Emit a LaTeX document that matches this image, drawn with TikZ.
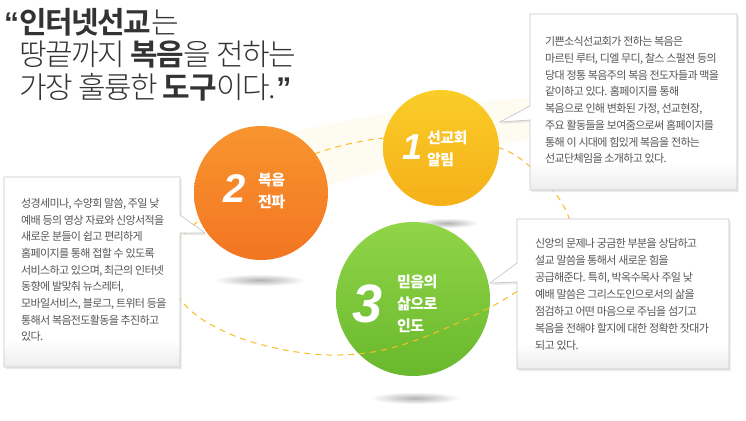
\documentclass[tikz,border=0pt]{standalone}
\usepackage{fontspec}
\usetikzlibrary{shadows}
\newfontfamily\kr[LetterSpace=-6]{Noto Sans CJK KR}
\IfFontExistsTF{Noto Sans CJK KR Light}{%
  \IfFontExistsTF{Noto Sans CJK KR Bold}{%
    \newfontfamily\krt[LetterSpace=-5, BoldFont={Noto Sans CJK KR Bold}]{Noto Sans CJK KR Light}}{%
    \newfontfamily\krt[LetterSpace=-5]{Noto Sans CJK KR}}}{%
  \newfontfamily\krt[LetterSpace=-5]{Noto Sans CJK KR}}
\newfontfamily\krc[LetterSpace=-4]{Noto Sans CJK KR}
\newfontfamily\numfont{Liberation Sans}
\definecolor{titlegray}{HTML}{333333}
\definecolor{boxgray}{HTML}{555555}
\definecolor{yelTop}{HTML}{FACD27}
\definecolor{yelBot}{HTML}{F5B01A}
\definecolor{orTop}{HTML}{F8952F}
\definecolor{orBot}{HTML}{F37522}
\definecolor{grTop}{HTML}{91D548}
\definecolor{grBot}{HTML}{69B82D}
\definecolor{dashcol}{HTML}{F7BE24}
\definecolor{swooshcol}{HTML}{FEFCF1}
\begin{document}
\begin{tikzpicture}[x=1pt,y=-1pt,
  boxfill/.style={fill=white, drop shadow={opacity=0.16, shadow xshift=1.5pt, shadow yshift=-2pt}},
  boxline/.style={draw=black!22, line width=0.7pt},
  boxgrad/.style={top color=white, bottom color=black!7},
  boxtext/.style={anchor=north west, inner sep=0pt, align=left, text=boxgray, font=\kr\fontsize{11}{16.7}\selectfont},
  titletext/.style={anchor=base west, inner sep=0pt, text=titlegray, font=\krt\fontsize{30}{34}\selectfont},
  ballshadow/.style={inner color=black!30, outer color=white},
  dashline/.style={draw=dashcol, line width=1pt, dash pattern=on 6pt off 5pt},
  numtext/.style={inner sep=0pt, text=white, font=\numfont\bfseries\itshape},
  circtext/.style={anchor=west, inner sep=0pt, align=left, text=white, font=\krc\bfseries\fontsize{15}{22}\selectfont}
]
\useasboundingbox (0,0) rectangle (746,420);
\fill[white] (0,0) rectangle (746,420);

% pale swoosh
\fill[swooshcol] (190,226) .. controls (300,195) and (420,152) .. (530,140) -- (530,98) .. controls (430,104) and (330,120) .. (245,145) -- cycle;

% shadows under balls
\shade[ballshadow] (260,280) ellipse (46 and 6);
\shade[ballshadow] (447,223) ellipse (32 and 5);
\shade[ballshadow] (415,398) ellipse (45 and 6);

% ball 3 (green)
\node[circle, minimum size=154pt, inner sep=0pt, shade, top color=grTop, bottom color=grBot] (c3) at (413,299) {};

% dashed orbit
\draw[dashline] plot[smooth cycle, tension=0.6] coordinates {
 (186,306) (230,334) (285,350) (340,355) (395,347) (460,322) (513,294)
 (550,263) (570,232) (563,205) (540,176) (505,150) (445,136) (383,138)
 (320,152) (250,183) (198,221) (165,262)};

% ball 2 (orange) and ball 1 (yellow)
\node[circle, minimum size=134pt, inner sep=0pt, shade, top color=orTop, bottom color=orBot] (c2) at (261,193) {};
\node[circle, minimum size=116pt, inner sep=0pt, shade, top color=yelTop, bottom color=yelBot] (c1) at (441,148) {};

% ball labels
\node[numtext, font=\numfont\bfseries\itshape\fontsize{36}{38}\selectfont] (n1) at (413,147) {1};
\node[circtext] (l1) at (427,149) {선교회\\알림};
\node[numtext, font=\numfont\bfseries\itshape\fontsize{40}{42}\selectfont] (n2) at (235,189) {2};
\node[circtext] (l2) at (258,191) {복음\\전파};
\node[numtext, font=\numfont\bfseries\itshape\fontsize{54}{56}\selectfont] (n3) at (368,304) {3};
\node[circtext] (l3) at (397,304) {믿음의\\삶으로\\인도};

% box 1
\path[boxfill] (530,14) -- (737,14) -- (737,190) -- (530,190) -- (530,120) -- (500,122) -- (530,106) -- cycle;
\shade[boxgrad] (530.4,162) rectangle (736.6,189.6);
\draw[boxline] (530,14) -- (737,14) -- (737,190) -- (530,190) -- (530,120) -- (500,122) -- (530,106) -- cycle;
% box 2
\path[boxfill] (4,177) -- (180,177) -- (180,215) -- (205,233) -- (180,233) -- (180,367) -- (4,367) -- cycle;
\shade[boxgrad] (4.4,340) rectangle (179.6,366.6);
\draw[boxline] (4,177) -- (180,177) -- (180,215) -- (205,233) -- (180,233) -- (180,367) -- (4,367) -- cycle;
% box 3
\path[boxfill] (517,219) -- (729,219) -- (729,369) -- (517,369) -- (517,282) -- (490,283) -- (517,263) -- cycle;
\shade[boxgrad] (517.4,343) rectangle (728.6,368.6);
\draw[boxline] (517,219) -- (729,219) -- (729,369) -- (517,369) -- (517,282) -- (490,283) -- (517,263) -- cycle;

% box texts
\node[boxtext] (t1) at (545,36.6) {기쁜소식선교회가 전하는 복음은\\마르틴 루터, 디엘 무디, 찰스 스펄젼 등의\\당대 정통 복음주의 복음 전도자들과 맥을\\같이하고 있다. 홈페이지를 통해\\복음으로 인해 변화된 가정, 선교현장,\\주요 활동들을 보여줌으로써 홈페이지를\\통해 이 시대에 힘있게 복음을 전하는\\선교단체임을 소개하고 있다.};
\node[boxtext] (t2) at (21,198) {성경세미나, 수양회 말씀, 주일 낮\\예배 등의 영상 자료와 신앙서적을\\새로운 분들이 쉽고 편리하게\\홈페이지를 통해 접할 수 있도록\\서비스하고 있으며, 최근의 인터넷\\동향에 발맞춰 뉴스레터,\\모바일서비스, 블로그, 트위터 등을\\통해서 복음전도활동을 추진하고\\있다.};
\node[boxtext, font=\kr\fontsize{11}{17}\selectfont] (t3) at (535,238.3) {신앙의 문제나 궁금한 부분을 상담하고\\설교 말씀을 통해서 새로운 힘을\\공급해준다. 특히, 박옥수목사 주일 낮\\예배 말씀은 그리스도인으로서의 삶을\\점검하고 어떤 마음으로 주님을 섬기고\\복음을 전해야 할지에 대한 정확한 잣대가\\되고 있다.};

% title
\node[titletext] (h1) at (4,34) {{\numfont\bfseries “}{\bfseries 인터넷선교}는};
\node[titletext] (h2) at (19,66) {땅끝까지 {\bfseries 복음}을 전하는};
\node[titletext] (h3) at (19,98) {가장 훌륭한 {\bfseries 도구}이다.{\numfont\bfseries ”}};
\end{tikzpicture}
\end{document}
